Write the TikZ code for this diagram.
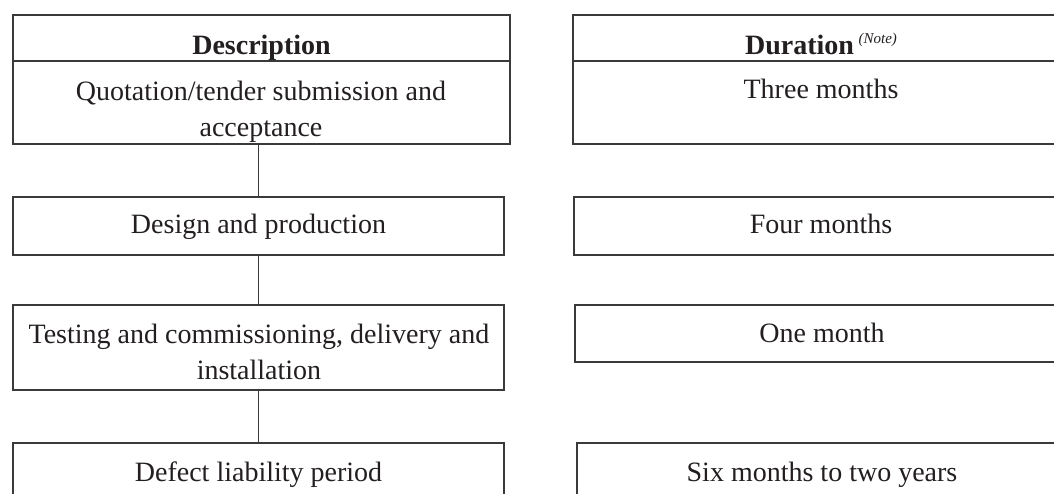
\documentclass[tikz,border=0pt]{standalone}
\usepackage{fontspec}
\setmainfont{Liberation Serif}
\definecolor{ink}{HTML}{231F20}
\definecolor{rule}{HTML}{3A3A3A}
\begin{document}
\begin{tikzpicture}[x=1bp,y=-1bp,
  frame/.style={draw=rule, line width=1.4bp, inner sep=0pt, fill=none},
  label/.style={anchor=base, inner sep=0pt, text=ink, align=center,
    font=\fontsize{28bp}{36.5bp}\selectfont},
  head/.style={label, font=\fontsize{28bp}{36.5bp}\selectfont\bfseries},
  link/.style={draw=rule, line width=1.4bp}]
\useasboundingbox (0,0) rectangle (1054,494);
\clip (0,0) rectangle (1054,494);
\fill[white] (0,0) rectangle (1054,494);

% left column: stages
\node[frame, minimum width=497bp, minimum height=46bp] (hd) at (261.5,38) {};
\node[frame, minimum width=497bp, minimum height=83bp] (d1) at (261.5,102.5) {};
\node[frame, minimum width=491bp, minimum height=58bp] (d2) at (258.5,226) {};
\node[frame, minimum width=491bp, minimum height=85bp] (d3) at (258.5,347.5) {};
\node[frame, minimum width=491bp, minimum height=82bp] (d4) at (258.5,484) {};

% right column: durations
\node[frame, minimum width=497bp, minimum height=46bp] (hr) at (821.5,38) {};
\node[frame, minimum width=497bp, minimum height=83bp] (r1) at (821.5,102.5) {};
\node[frame, minimum width=496bp, minimum height=58bp] (r2) at (822,226) {};
\node[frame, minimum width=495bp, minimum height=57bp] (r3) at (822.5,333.5) {};
\node[frame, minimum width=493bp, minimum height=82bp] (r4) at (823.5,484) {};

% connectors between stages
\draw[link] (d2.north) -- (d2.north |- d1.south);
\draw[link] (d3.north) -- (d3.north |- d2.south);
\draw[link] (d4.north) -- (d4.north |- d3.south);

% texts (two-line labels are placed by the baseline of their last line)
\node[head] (thd) at (261.5,55) {Description};
\node[head] (thr) at (821,55) {Duration\,\raisebox{11bp}{\fontsize{15bp}{15bp}\selectfont\mdseries\itshape (Note)}};
\node[label] (t1) at (261,137) {Quotation/tender submission and\\acceptance};
\node[label] (s1) at (821,99) {Three months};
\node[label] (t2) at (258.5,234) {Design and production};
\node[label] (s2) at (821,234) {Four months};
\node[label] (t3) at (259,380) {Testing and commissioning, delivery and\\installation};
\node[label] (s3) at (822,343) {One month};
\node[label] (t4) at (258.5,481) {Defect liability period};
\node[label] (s4) at (822,481) {Six months to two years};
\end{tikzpicture}
\end{document}
